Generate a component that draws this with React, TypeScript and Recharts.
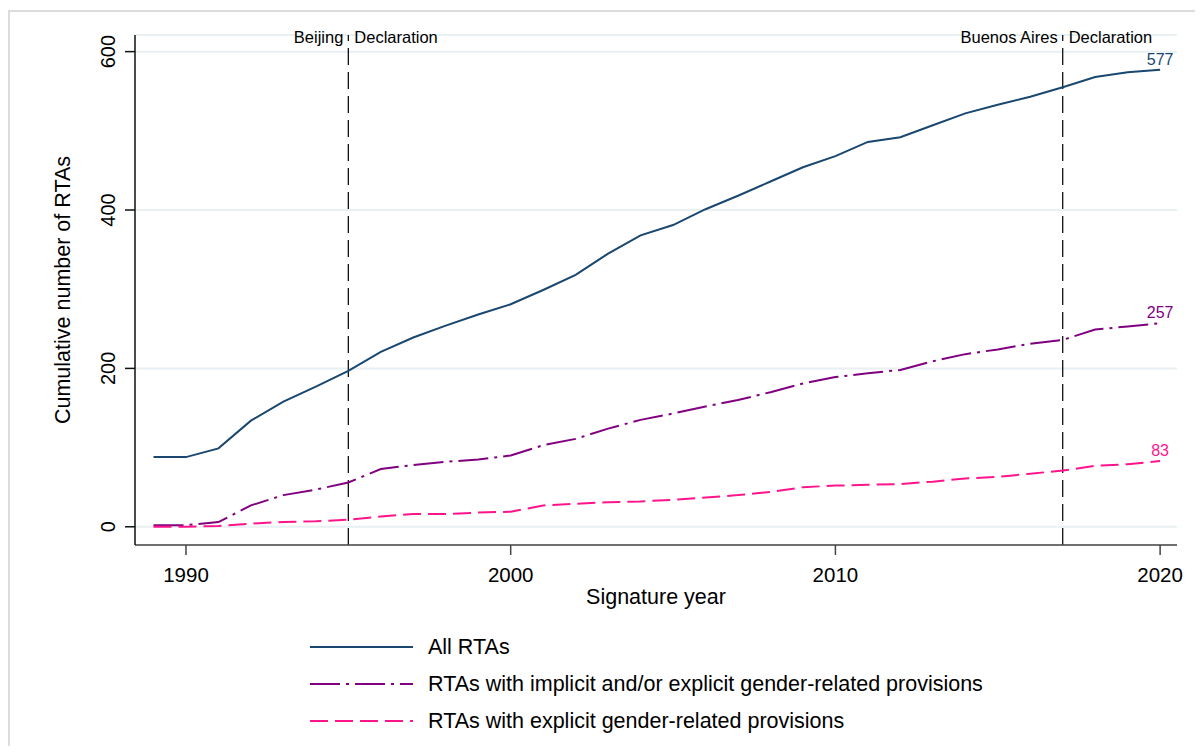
import { LineChart, Line, XAxis, YAxis, CartesianGrid, ReferenceLine, LabelList } from 'recharts'

const years = [
  1989, 1990, 1991, 1992, 1993, 1994, 1995, 1996, 1997, 1998, 1999, 2000, 2001, 2002, 2003, 2004,
  2005, 2006, 2007, 2008, 2009, 2010, 2011, 2012, 2013, 2014, 2015, 2016, 2017, 2018, 2019, 2020
]
const allRtas = [
  88, 88, 99, 134, 158, 177, 197, 221, 239, 254, 268, 281, 299, 318, 345, 368,
  381, 401, 418, 436, 454, 468, 486, 492, 507, 522, 533, 543, 555, 568, 574, 577
]
const anyGender = [
  2, 2, 6, 27, 40, 47, 56, 73, 78, 82, 85, 90, 103, 111, 124, 135,
  143, 152, 160, 170, 181, 189, 194, 198, 209, 218, 224, 231, 236, 249, 253, 257
]
const explicitGender = [
  0, 0, 1, 4, 6, 7, 9, 13, 16, 16, 18, 19, 27, 29, 31, 32,
  34, 37, 40, 44, 50, 52, 53, 54, 57, 61, 63, 67, 71, 77, 79, 83
]
const xTicks = [1990, 2000, 2010, 2020]
const yTicks = [0, 200, 400, 600]
const declarations = [
  { year: 1995, left: 'Beijing', right: 'Declaration' },
  { year: 2017, left: 'Buenos Aires', right: 'Declaration' }
]

const data = years.map((year, i) => ({
  year,
  all: allRtas[i],
  any: anyGender[i],
  explicit: explicitGender[i]
}))

const series = [
  { key: 'all', name: 'All RTAs', color: '#1a476f', dash: undefined },
  { key: 'any', name: 'RTAs with implicit and/or explicit gender-related provisions', color: '#80007f', dash: '30 6 3 6' },
  { key: 'explicit', name: 'RTAs with explicit gender-related provisions', color: '#ff148c', dash: '18 7' }
]

const FONT = '"Liberation Sans", Arial, sans-serif'
const last = data.length - 1

const YTick = ({ x, y, payload }: any) => (
  <text transform={`translate(${x - 10},${y}) rotate(-90)`} textAnchor="middle" fontSize={20} fill="#000">
    {payload.value}
  </text>
)

const endLabel = (color: string) => (props: any) => {
  if (props.index !== last) return null
  return (
    <text x={props.x} y={props.y - 5} textAnchor="middle" fontSize={16} fill={color}>
      {props.value}
    </text>
  )
}

const declLabel = (left: string, right: string) => (props: any) => {
  const vb = props.viewBox
  return (
    <g fontSize={16.5} fill="#000">
      <text x={vb.x - 5} y={vb.y + 8} textAnchor="end">{left}</text>
      <text x={vb.x + 6} y={vb.y + 8} textAnchor="start">{right}</text>
    </g>
  )
}

export default function App() {
  return (
    <div style={{ position: 'relative', width: 1187, height: 738, overflow: 'hidden', fontFamily: FONT, background: '#fff' }}>
      <div style={{ position: 'absolute', left: 0, top: 2, width: 2000, height: 2000, borderTop: '2px solid #dcdcdc', borderLeft: '2px solid #dcdcdc' }} />
      <LineChart width={1187} height={738} data={data} margin={{ top: 27, right: 18, left: 47, bottom: 141 }}>
        <CartesianGrid vertical={false} stroke="#e8f0f3" strokeWidth={2} />
        <XAxis
          dataKey="year"
          type="number"
          domain={[1988.43, 2020.52]}
          ticks={xTicks}
          allowDataOverflow
          height={60}
          tickSize={10}
          tickMargin={12}
          stroke="#444"
          strokeWidth={1.5}
          tick={{ fontSize: 20.5, fill: '#000' }}
          label={(props: any) => {
            const vb = props.viewBox
            return (
              <text x={vb.x + vb.width / 2} y={vb.y + 59} textAnchor="middle" fontSize={21.5} fill="#000">
                Signature year
              </text>
            )
          }}
        />
        <YAxis
          domain={[-23, 621]}
          ticks={yTicks}
          allowDataOverflow
          width={80}
          tickSize={10}
          tickMargin={0}
          stroke="#111"
          strokeWidth={1.5}
          tick={<YTick />}
          label={(props: any) => {
            const vb = props.viewBox
            const cy = vb.y + vb.height / 2
            return (
              <text transform={`translate(${vb.x + 15},${cy}) rotate(-90)`} textAnchor="middle" fontSize={21.5} fill="#000">
                Cumulative number of RTAs
              </text>
            )
          }}
        />
        {declarations.map((d) => (
          <ReferenceLine
            key={d.year}
            x={d.year}
            stroke="#111"
            strokeWidth={1.3}
            strokeDasharray="17 7"
            label={declLabel(d.left, d.right)}
          />
        ))}
        {series.map((s) => (
          <Line
            key={s.key}
            dataKey={s.key}
            name={s.name}
            type="linear"
            stroke={s.color}
            strokeWidth={2}
            strokeDasharray={s.dash}
            dot={false}
            activeDot={false}
            isAnimationActive={false}
          >
            <LabelList dataKey={s.key} content={endLabel(s.color)} />
          </Line>
        ))}
      </LineChart>
      <div style={{ position: 'absolute', left: 302, top: 620 }}>
        <svg width={760} height={115}>
          {series.map((s, i) => {
            const cy = 19 + i * 37
            return (
              <g key={s.key}>
                <line x1={0} x2={103} y1={cy} y2={cy} stroke={s.color} strokeWidth={2} strokeDasharray={s.dash} />
                <text x={118} y={cy} dominantBaseline="central" fontSize={21.5} fill="#000" fontFamily={FONT}>
                  {s.name}
                </text>
              </g>
            )
          })}
        </svg>
      </div>
    </div>
  )
}
